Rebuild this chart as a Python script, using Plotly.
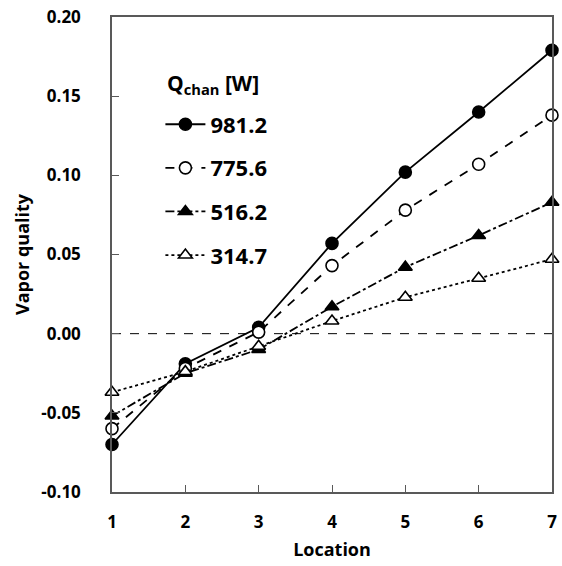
import plotly.graph_objects as go

locations = [1, 2, 3, 4, 5, 6, 7]
q_labels = ["981.2", "775.6", "516.2", "314.7"]
q_981 = [-0.070, -0.019, 0.004, 0.057, 0.102, 0.140, 0.179]
q_775 = [-0.060, -0.022, 0.001, 0.043, 0.078, 0.107, 0.138]
q_516 = [-0.052, -0.025, -0.010, 0.017, 0.042, 0.062, 0.083]
q_314 = [-0.037, -0.024, -0.008, 0.008, 0.023, 0.035, 0.047]

series = [q_981, q_775, q_516, q_314]
dashes = ["solid", "dash", "dashdot", "dot"]
symbols = ["circle", "circle", "triangle-up", "triangle-up"]
fills = ["black", "white", "black", "white"]

fig = go.Figure()
for i, (lab, vals) in enumerate(zip(q_labels, series)):
    fig.add_trace(go.Scatter(
        x=locations, y=vals, name=lab, mode="lines+markers",
        legendgroup=f"g{i}",
        line=dict(color="black", width=1.8, dash=dashes[i]),
        marker=dict(symbol=symbols[i], size=12, color=fills[i],
                    line=dict(color="black", width=1.6)),
        cliponaxis=False,
    ))

fig.add_shape(type="line", xref="paper", x0=0, x1=1, yref="y", y0=0, y1=0,
              line=dict(color="black", width=1, dash="dash"), layer="below")

font_family = "Open Sans, sans-serif"
fig.add_annotation(
    text="Q<sub>chan</sub> [W]", xref="paper", yref="paper",
    x=0.12, y=0.86, xanchor="left", yanchor="middle", showarrow=False,
    font=dict(size=21, family=font_family, weight="bold", color="black"),
)

fig.update_layout(
    width=562, height=566,
    margin=dict(l=112, r=5, t=14, b=74),
    plot_bgcolor="white", paper_bgcolor="white",
    font=dict(family=font_family, color="black", size=16),
    showlegend=True,
    legend=dict(
        x=0.11, y=0.818, xanchor="left", yanchor="top",
        bgcolor="rgba(0,0,0,0)",
        font=dict(size=22, family=font_family, weight="bold"),
        tracegroupgap=12,
        itemwidth=40,
    ),
    xaxis=dict(
        range=[1, 7], tickvals=locations, ticktext=[str(v) for v in locations],
        ticks="inside", ticklen=7, tickcolor="#595959",
        showline=True, linecolor="#595959", linewidth=1.5, mirror=True,
        showgrid=False, zeroline=False,
        tickfont=dict(size=17, weight="bold"),
        ticklabelstandoff=14,
        title=dict(text="Location", font=dict(size=18, weight="bold"), standoff=11),
    ),
    yaxis=dict(
        range=[-0.10, 0.20], tickvals=[-0.10, -0.05, 0.0, 0.05, 0.10, 0.15, 0.20],
        ticktext=["-0.10", "-0.05", "0.00", "0.05", "0.10", "0.15", "0.20"],
        ticks="inside", ticklen=7, tickcolor="#595959",
        showline=True, linecolor="#595959", linewidth=1.5, mirror=True,
        showgrid=False, zeroline=False,
        tickfont=dict(size=17, weight="bold"),
        ticklabelstandoff=26,
        title=dict(text="Vapor quality", font=dict(size=18, weight="bold"), standoff=7),
    ),
)

fig.write_html("out.html")
